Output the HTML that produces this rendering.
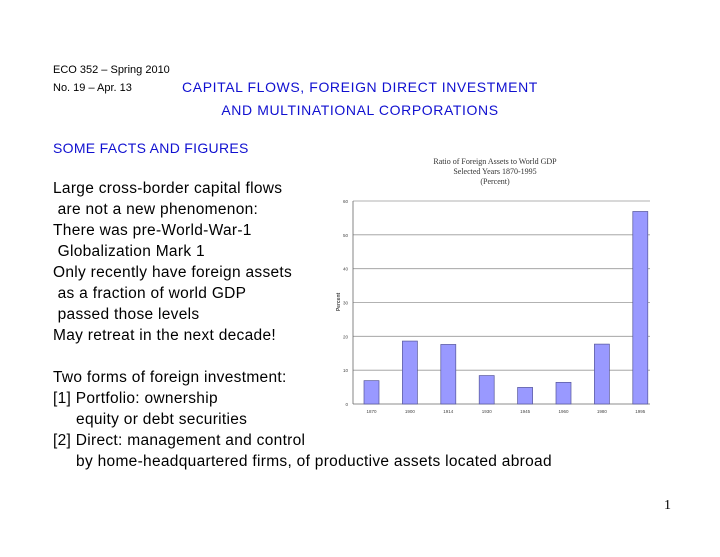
<!DOCTYPE html>
<html><head><meta charset="utf-8"><style>
body{margin:0;width:720px;height:557px;background:#fff;position:relative;overflow:hidden;font-family:"Liberation Sans",sans-serif;color:#000}
.t{position:absolute;white-space:nowrap}
.s{font-size:11px}
.h{font-size:14px;color:#1010d0;left:0;width:720px;text-align:center;letter-spacing:0.6px}
.b{font-size:15.5px;left:53px;letter-spacing:0.3px}
</style></head><body>
<div class="t s" style="left:53px;top:64px">ECO 352 – Spring 2010</div>
<div class="t s" style="left:53px;top:82px">No. 19 – Apr. 13</div>
<div class="t h" style="top:79px">CAPITAL FLOWS, FOREIGN DIRECT INVESTMENT</div>
<div class="t h" style="top:102px">AND MULTINATIONAL CORPORATIONS</div>
<div class="t" style="left:53px;top:140px;font-size:14px;color:#1010d0;letter-spacing:0.3px">SOME FACTS AND FIGURES</div>
<div>
<div class="t b" style="top:180px">Large cross-border capital flows</div>
<div class="t b" style="top:201px">&nbsp;are not a new phenomenon:</div>
<div class="t b" style="top:222px">There was pre-World-War-1</div>
<div class="t b" style="top:243px">&nbsp;Globalization Mark 1</div>
<div class="t b" style="top:264px">Only recently have foreign assets</div>
<div class="t b" style="top:285px">&nbsp;as a fraction of world GDP</div>
<div class="t b" style="top:306px">&nbsp;passed those levels</div>
<div class="t b" style="top:327px">May retreat in the next decade!</div>
<div class="t b" style="top:369px">Two forms of foreign investment:</div>
<div class="t b" style="top:390px">[1] Portfolio: ownership</div>
<div class="t b" style="top:411px">&nbsp;&nbsp;&nbsp;&nbsp;&nbsp;equity or debt securities</div>
<div class="t b" style="top:432px">[2] Direct: management and control</div>
<div class="t b" style="top:453px">&nbsp;&nbsp;&nbsp;&nbsp;&nbsp;by home-headquartered firms, of productive assets located abroad</div>
</div>
<div class="t" style="left:664px;top:498px;font-family:'Liberation Serif',serif;font-size:14px">1</div>
<svg id="chart" width="720" height="557" style="position:absolute;left:0;top:0">
<g font-family="Liberation Serif,serif" font-size="8" fill="#333" text-anchor="middle">
<text x="495" y="164">Ratio of Foreign Assets to World GDP</text>
<text x="495" y="174">Selected Years 1870-1995</text>
<text x="495" y="184">(Percent)</text>
</g>
<text x="0" y="0" font-size="5" font-weight="bold" fill="#444" text-anchor="middle" transform="translate(340,302) rotate(-90)" font-family="Liberation Sans">Percent</text>
<g id="grid"></g><g id="bars"></g><g id="labels"></g>
</svg>
<script>
const categories=["1870","1900","1914","1930","1945","1960","1980","1995"];
const values=[6.9,18.6,17.6,8.4,4.9,6.4,17.7,56.9];
const ticks=[0,10,20,30,40,50,60];
const x0=353,x1=650,yTop=201,yBot=404,ymax=60;
const y=v=>yBot-(v/ymax)*(yBot-yTop);
const cx=i=>371.5+i*38.4;
const ns="http://www.w3.org/2000/svg";
const grid=document.getElementById('grid'),bars=document.getElementById('bars'),labels=document.getElementById('labels');
ticks.forEach(t=>{
 const l=document.createElementNS(ns,'line');
 
 
 l.setAttribute('x1',x0);l.setAttribute('x2',x1);l.setAttribute('y1',y(t));l.setAttribute('y2',y(t));
 l.setAttribute('stroke',t===0?'#666':'#999');l.setAttribute('stroke-width','0.8');grid.appendChild(l);
 const tx=document.createElementNS(ns,'text');
 
 
 tx.setAttribute('x',x0-5);tx.setAttribute('y',y(t)+2);tx.setAttribute('font-size','4.5');tx.setAttribute('text-anchor','end');tx.setAttribute('fill','#444');tx.textContent=t;labels.appendChild(tx);
});
const ax=document.createElementNS(ns,'line');


ax.setAttribute('x1',x0);ax.setAttribute('x2',x0);ax.setAttribute('y1',yTop);ax.setAttribute('y2',yBot);ax.setAttribute('stroke','#666');ax.setAttribute('stroke-width','0.8');grid.appendChild(ax);
categories.forEach((c,i)=>{
 const r=document.createElementNS(ns,'rect');
 
 
 r.setAttribute('x',cx(i)-7.5);r.setAttribute('width',15);r.setAttribute('y',y(values[i]));r.setAttribute('height',yBot-y(values[i]));
 r.setAttribute('fill','#9999ff');r.setAttribute('stroke','#555599');r.setAttribute('stroke-width','0.7');bars.appendChild(r);
 const tx=document.createElementNS(ns,'text');
 
 
 tx.setAttribute('x',cx(i));tx.setAttribute('y',yBot+9);tx.setAttribute('font-size','4.5');tx.setAttribute('text-anchor','middle');tx.setAttribute('fill','#444');tx.textContent=c;labels.appendChild(tx);
});
</script>
</body></html>
